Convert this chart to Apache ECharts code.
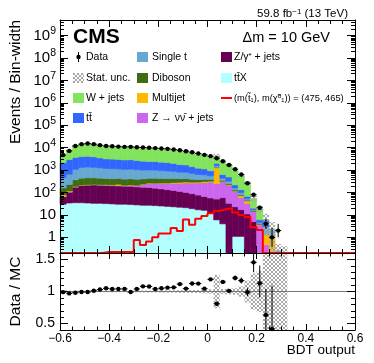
<!DOCTYPE html>
<html>
<head>
<meta charset="utf-8">
<script src="https://cdn.jsdelivr.net/npm/echarts@6.0.0/dist/echarts.min.js"></script>
<style>
html,body{margin:0;padding:0;background:#fff;}
#chart{width:374px;height:363px;}
</style>
</head>
<body>
<div id="chart"></div>
<script>
// ---------------- data ----------------
const bdtBinStart = -0.6;
const bdtBinWidth = 0.025;

const dataObs  = [4700,7200,12000,14400,15500,14400,13000,12000,11700,11200, 10900,10900,10500,10200,9900,9600,9200,8900,8300,7700, 7000,6300,5500,4800,4200,3400,2500,1700,1100,640, 260,80,21,4,1,2,0];
const wJets    = [2590,4470,8570,10500,11500,10300,9110,8250,8150,7790, 7650,8090,7410,6936,6745,6835,6508,6230,5820,5140, 5000,4175,3680,3460,2600,2190,1540,1190,690,414, 195,35,12.5,0.28,0.1,0,0];
const ttbar    = [1700,2300,2600,2700,2750,2600,2250,2000,1950,1850, 1750,1800,1650,1500,1420,1400,1300,1250,1100,950, 900,720,580,520,380,450,200,170,60,35, 15,3,1.5,3.45,0,0,0];
const singleT  = [300,420,700,880,920,870,820,760,740,710, 680,700,650,600,580,570,530,500,460,400, 380,320,260,230,170,230,90,75,30,20, 8,1.5,0.5,1.28,1.1,0.15,0.1];
const diboson  = [80,110,180,220,230,220,210,200,195,190, 185,190,180,170,165,165,155,150,140,125, 120,100,85,80,60,40,30,25,13,6, 3,1,0.3,0,0,0,0];
const multijet = [12,10,8,5,5,6,5,5,6,25, 5,6,5,5,8,6,10,12,20,25, 30,25,25,30,25,1040,15,10,6,13, 9,0.5,0.2,0.82,1.1,0,0];
const zNuNu    = [2,3,4,5,6,7,8,10,12,14, 17,22,28,60,90,100,110,120,135,150, 165,175,190,210,240,200,240,180,87,42, 22,9,3.6,0.47,0.1,0.1,0.1];
const zGamma   = [35,70,140,170,180,185,180,175,170,165, 160,160,150,145,140,130,120,110,100,90, 80,70,60,50,45,45,55,33,22,16, 11,5,0,0,0,0,0];
const ttX      = [30,34,35,35,34,33,33,32,31,30, 30,29,28,27,27,26,25,24,23,22, 21,19,17,16,12,6,4,0,1.1,1.1, 0,0,0,0,0,0,0];
const signal   = [0,0,0,0,0,0,0,0.22,0.22,0.22, 0.22,0.22,0.77,0.45,0.66,1.0,1.5,1.5,2.6,1.9, 6.2,3.6,6.8,9,12,15,18,20,13,10, 8,2.8,2.1,0,0,0,0];
const mcRelUnc = [0.02,0.015,0.012,0.01,0.01,0.01,0.01,0.012,0.012,0.012, 0.012,0.012,0.013,0.014,0.015,0.015,0.016,0.017,0.018,0.02, 0.02,0.022,0.025,0.03,0.035,0.26,0.04,0.045,0.05,0.08, 0.17,0.28,0.32,0.8,1.0,1.0,1.0];

const yTickValues = [1,10,100,1e3,1e4,1e5,1e6,1e7,1e8,1e9];
const ratioTickValues = [0.5, 1, 1.5];

// ---------------- styling ----------------
const FONT = "'Liberation Sans', 'DejaVu Sans', Arial, sans-serif";
const YMIN = 0.2, YMAX = 5e9, RMIN = 0.4, RMAX = 1.6, FLOOR = 0.02;
const C = {
  w: '#82e35c', tt: '#3366ff', st: '#67a8d3', vv: '#3e6c10',
  mj: '#fdb800', znn: '#cc66ee', zg: '#650052', ttx: '#b3ffff', sig: '#ff0000'
};

const pc = document.createElement('canvas'); pc.width = 4; pc.height = 4;
const pg = pc.getContext('2d'); pg.fillStyle = '#a6a6a6';
for (let i = 0; i < 4; i++) { pg.fillRect(i, i, 1, 1); pg.fillRect(3 - i, i, 1, 1); }
const HATCH = { image: pc, repeat: 'repeat' };

const nBins = dataObs.length;
const edges = i => [bdtBinStart + i * bdtBinWidth, bdtBinStart + (i + 1) * bdtBinWidth];

function rectSeries(name, items, fill, xi, yi, z) {
  return {
    type: 'custom', name, xAxisIndex: xi, yAxisIndex: yi, z: z || 2, silent: true,
    encode: { x: [0, 1], y: [2, 3] }, data: items,
    renderItem(params, api) {
      const cs = params.coordSys;
      const a = api.coord([api.value(0), api.value(3)]);
      const b = api.coord([api.value(1), api.value(2)]);
      const top = Math.max(cs.y, a[1]);
      const bot = Math.min(cs.y + cs.height, b[1]);
      if (!(bot - top > 0.01)) return null;
      const st = typeof fill === 'string' ? { fill, stroke: fill, lineWidth: 0.6 } : { fill };
      return { type: 'rect', shape: { x: a[0], y: top, width: b[0] - a[0], height: bot - top }, style: st };
    }
  };
}

function pointSeries(items, xi, yi) {
  return {
    type: 'custom', xAxisIndex: xi, yAxisIndex: yi, z: 6, silent: true,
    encode: { x: [0, 1, 2], y: [3, 4, 5] }, data: items,
    renderItem(params, api) {
      const cs = params.coordSys;
      const p = api.coord([api.value(0), api.value(3)]);
      const l = api.coord([api.value(1), api.value(3)]);
      const r = api.coord([api.value(2), api.value(3)]);
      const lo = api.coord([api.value(0), api.value(4)]);
      const hi = api.coord([api.value(0), api.value(5)]);
      if (p[1] < cs.y - 0.5 || p[1] > cs.y + cs.height + 0.5) return null;
      const y1 = Math.max(cs.y, hi[1]), y2 = Math.min(cs.y + cs.height, lo[1]);
      return { type: 'group', children: [
        { type: 'line', shape: { x1: l[0], y1: p[1], x2: r[0], y2: p[1] }, style: { stroke: '#000', lineWidth: 1 } },
        { type: 'line', shape: { x1: p[0], y1: y1, x2: p[0], y2: y2 }, style: { stroke: '#000', lineWidth: 1 } },
        { type: 'circle', shape: { cx: p[0], cy: p[1], r: 2.2 }, style: { fill: '#000' } }
      ] };
    }
  };
}

const series = [];
const cum = new Array(nBins).fill(0);
const stackOrder = [
  ['ttX', ttX, C.ttx], ['Zgamma', zGamma, C.zg], ['Znunu', zNuNu, C.znn], ['Multijet', multijet, C.mj],
  ['Diboson', diboson, C.vv], ['Single t', singleT, C.st], ['ttbar', ttbar, C.tt], ['W + jets', wJets, C.w]
];
stackOrder.forEach(([name, vals, color]) => {
  const items = [];
  vals.forEach((v, i) => {
    const [x0, x1] = edges(i);
    const lo = cum[i], hi = cum[i] + v;
    cum[i] = hi;
    if (v > 0) items.push([x0, x1, Math.max(lo, FLOOR), hi]);
  });
  series.push(rectSeries(name, items, color, 0, 0, 2));
});
const mcTotal = cum.slice();

// stat. unc. (upper)
const hatchUp = [], hatchRatio = [];
mcTotal.forEach((t, i) => {
  if (t <= 0) return;
  const [x0, x1] = edges(i);
  const u = mcRelUnc[i];
  hatchUp.push([x0, x1, Math.max(t * (1 - u), FLOOR), t * (1 + u)]);
  hatchRatio.push([x0, x1, 1 - u, 1 + u]);
});
series.push(rectSeries('Stat. unc.', hatchUp, HATCH, 0, 0, 3));

// signal step line
const sigPts = signal.map((v, i) => [edges(i)[0], Math.max(v, YMIN)]);
sigPts.push([edges(nBins)[0], YMIN], [0.6, YMIN]);
series.push({ type: 'line', xAxisIndex: 0, yAxisIndex: 0, z: 4, step: 'end', symbol: 'none', clip: false, silent: true,
  data: sigPts, lineStyle: { color: C.sig, width: 2 } });

// data points (upper) and ratio
const errLo = n => Math.sqrt(n + 0.25) - 0.5;
const errHi = n => Math.sqrt(n + 0.25) + 0.5;
const dataPts = [], ratioPts = [];
dataObs.forEach((n, i) => {
  if (n <= 0) return;
  const [x0, x1] = edges(i);
  const xc = (x0 + x1) / 2;
  dataPts.push([xc, x0, x1, n, Math.max(n - errLo(n), FLOOR), n + errHi(n)]);
  const t = mcTotal[i];
  if (t > 0) ratioPts.push([xc, x0, x1, n / t, (n - errLo(n)) / t, (n + errHi(n)) / t]);
});
series.push(pointSeries(dataPts, 0, 0));

// ratio panel
series.push(rectSeries('Stat. unc. ratio', hatchRatio, HATCH, 2, 4, 3));
series.push({ type: 'line', xAxisIndex: 2, yAxisIndex: 4, z: 4, symbol: 'none', silent: true,
  data: [[-0.6, 1], [0.6, 1]], lineStyle: { color: '#777', width: 1 } });
series.push(pointSeries(ratioPts, 2, 4));

// ---------------- axes ----------------
const minorLog = [];
for (let e = -1; e <= 9; e++) for (let m = 2; m <= 9; m++) { const v = m * Math.pow(10, e); if (v >= YMIN && v <= YMAX) minorLog.push(v); }

const black = { color: '#000', width: 1 };
function xAx(grid, pos, labels) {
  return {
    type: 'value', gridIndex: grid, position: pos, min: -0.6, max: 0.6, interval: 0.2, z: 10,
    axisLine: { show: true, onZero: false, lineStyle: black },
    axisTick: { show: true, inside: true, length: grid === 0 ? 7 : 6, lineStyle: black },
    minorTick: { show: true, splitNumber: 4, length: grid === 0 ? 4 : 3.5, lineStyle: black },
    splitLine: { show: false }, minorSplitLine: { show: false },
    axisLabel: labels ? {
      show: true, fontSize: 12, color: '#000', fontFamily: FONT, margin: 3,
      formatter: v => { const r = Math.round(v * 10) / 10; return r === 0 ? '0' : (r < 0 ? '\u2212' : '') + Math.abs(r).toFixed(1); }
    } : { show: false }
  };
}
function logAx(pos, major) {
  return {
    type: 'log', logBase: 10, gridIndex: 0, position: pos, min: YMIN, max: YMAX, z: 10,
    axisLine: { show: major, onZero: false, lineStyle: black },
    axisTick: { show: true, inside: true, length: major ? 8 : 4, customValues: major ? yTickValues : minorLog, lineStyle: black },
    splitLine: { show: false }, minorTick: { show: false },
    axisLabel: (major && pos === 'left') ? {
      show: true, customValues: yTickValues, margin: 4, color: '#000',
      formatter: v => { const e = Math.round(Math.log10(v)); return e === 0 ? '{b|1}' : (e === 1 ? '{b|10}' : '{b|10}{s|' + e + '}'); },
      rich: { b: { fontSize: 15, fontFamily: FONT, color: '#000', lineHeight: 20 },
              s: { fontSize: 10.5, fontFamily: FONT, color: '#000', lineHeight: 10, verticalAlign: 'top' } }
    } : { show: false }
  };
}
function ratioAx(pos, major) {
  const ax = {
    type: 'value', gridIndex: 1, position: pos, min: RMIN, max: RMAX, z: 10,
    axisLine: { show: major, onZero: false, lineStyle: black },
    axisTick: { show: true, inside: true, length: major ? 8 : 4, lineStyle: black },
    splitLine: { show: false },
    axisLabel: { show: false }
  };
  if (major) {
    ax.axisTick.customValues = ratioTickValues;
    if (pos === 'left') ax.axisLabel = { show: true, customValues: ratioTickValues, fontSize: 14, color: '#000', fontFamily: FONT, margin: 5,
      formatter: v => String(Math.round(v * 10) / 10) };
  } else {
    ax.interval = 0.1;
  }
  return ax;
}

// ---------------- legend / texts ----------------
const T = (x, y, text, size, align, extra) => Object.assign({
  type: 'text', x, y, z: 20, silent: true,
  style: Object.assign({ text, fontSize: size, fontFamily: FONT, fill: '#000', align: align || 'left', verticalAlign: 'middle' }, extra || {})
});
const box = (x, y, fill) => ({ type: 'rect', z: 20, silent: true, shape: { x, y, width: 11, height: 10 }, style: { fill } });
const rows = [57, 78, 98, 118];
const graphics = [
  T(348, 14, '59.8 fb{s|\u22121} (13 TeV)', 11.5, 'right', { rich: { s: { fontSize: 8, fontFamily: FONT, fill: '#000', verticalAlign: 'top', lineHeight: 9 } } }),
  T(73, 37, 'CMS', 21, 'left', { fontWeight: 'bold' }),
  T(330, 38, '\u0394m = 10 GeV', 14.5, 'right'),
  // column 1
  { type: 'line', z: 20, silent: true, shape: { x1: 78.5, y1: rows[0] - 5, x2: 78.5, y2: rows[0] + 5 }, style: { stroke: '#000', lineWidth: 1 } },
  { type: 'circle', z: 20, silent: true, shape: { cx: 78.5, cy: rows[0], r: 2.2 }, style: { fill: '#000' } },
  T(86, rows[0], 'Data', 10.5),
  box(73, rows[1] - 5, HATCH), T(86, rows[1], 'Stat. unc.', 10.5),
  box(73, rows[2] - 5, C.w), T(86, rows[2], 'W + jets', 10.5),
  box(73, rows[3] - 5, C.tt), T(86, rows[3], 'tt\u0304', 10.5),
  // column 2
  box(137, rows[0] - 5, C.st), T(152, rows[0], 'Single t', 10.5),
  box(137, rows[1] - 5, C.vv), T(152, rows[1], 'Diboson', 10.5),
  box(137, rows[2] - 5, C.mj), T(152, rows[2], 'Multijet', 10.5),
  box(137, rows[3] - 5, C.znn), T(152, rows[3], 'Z \u2192 \u03bd\u03bd\u0304 + jets', 10.5),
  // column 3
  box(221, rows[0] - 5, C.zg), T(234, rows[0], 'Z/\u03b3{s|*} + jets', 10.5, 'left', { rich: { s: { fontSize: 8, fontFamily: FONT, fill: '#000', verticalAlign: 'top', lineHeight: 8 } } }),
  box(221, rows[1] - 5, C.ttx), T(234, rows[1], 'tt\u0304X', 10.5),
  { type: 'line', z: 20, silent: true, shape: { x1: 221, y1: rows[2], x2: 232, y2: rows[2] }, style: { stroke: C.sig, lineWidth: 2 } },
  T(234, rows[2], '(m(t\u0303\u2081), m(\u03c7\u0303\u2070\u2081)) = (475, 465)', 9.3),
  // axis titles
  T(16, 20, 'Events / Bin-width', 15.5, 'right', {}),
  T(16, 291.5, 'Data / MC', 15.5, 'center', {}),
  T(355, 350, 'BDT output', 13.5, 'right')
];
graphics[graphics.length - 3].rotation = Math.PI / 2;
graphics[graphics.length - 2].rotation = Math.PI / 2;

const chart = echarts.init(document.getElementById('chart'), null, { renderer: 'canvas' });
chart.setOption({
  animation: false,
  backgroundColor: '#fff',
  textStyle: { fontFamily: FONT },
  grid: [
    { left: 60, right: 19, top: 20, height: 233 },
    { left: 60, right: 19, top: 253, height: 77 }
  ],
  xAxis: [xAx(0, 'bottom', false), xAx(0, 'top', false), xAx(1, 'bottom', true), xAx(1, 'top', false)],
  yAxis: [logAx('left', true), logAx('left', false), logAx('right', true), logAx('right', false),
          ratioAx('left', true), ratioAx('left', false), ratioAx('right', true), ratioAx('right', false)],
  series,
  graphic: graphics
});
</script>
</body>
</html>
